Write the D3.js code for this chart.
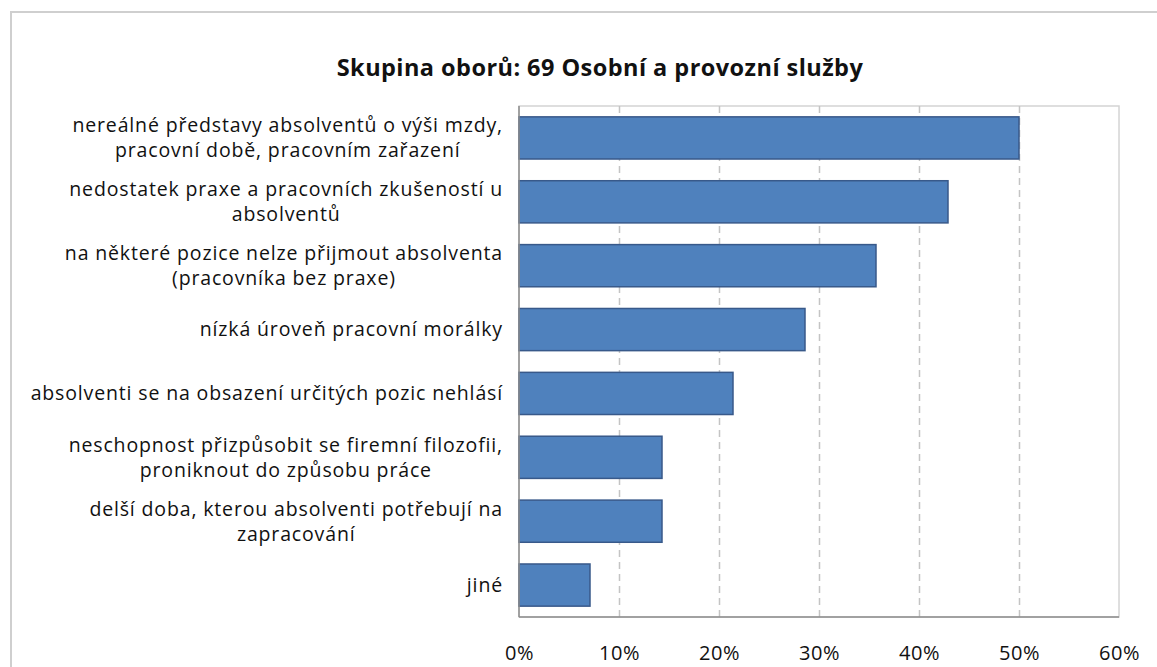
<!DOCTYPE html>
<html>
<head>
<meta charset="utf-8">
<script src="https://cdn.jsdelivr.net/npm/d3@7"></script>
<style>
  body { margin: 0; background: #fff; }
  svg { display: block; }
  text { font-family: "Open Sans", sans-serif; fill: #111; }
</style>
</head>
<body>
<svg id="chart" width="1157" height="667"></svg>
<script>
// categories (each one split into its wrapped lines, top to bottom)
var categories = [
    ["nereálné představy absolventů o výši mzdy,", "pracovní době, pracovním zařazení"],
    ["nedostatek praxe a pracovních zkušeností u", "absolventů"],
    ["na některé pozice nelze přijmout absolventa", "(pracovníka bez praxe)"],
    ["nízká úroveň pracovní morálky"],
    ["absolventi se na obsazení určitých pozic nehlásí"],
    ["neschopnost přizpůsobit se firemní filozofii,", "proniknout do způsobu práce"],
    ["delší doba, kterou absolventi potřebují na", "zapracování"],
    ["jiné"]
];
var shares = [0.5, 0.429, 0.357, 0.286, 0.214, 0.143, 0.143, 0.071];
var xTicks = [0, 0.1, 0.2, 0.3, 0.4, 0.5, 0.6];
var title = "Skupina oborů: 69 Osobní a provozní služby";

var svg = d3.select("#chart"),
    margin = {top: 106, right: 38, bottom: 50, left: 519},
    width = +svg.attr("width"),
    height = +svg.attr("height");

// outer chart frame (runs off the right and bottom edge like the original)
svg.append("rect")
   .attr("x", 11).attr("y", 12)
   .attr("width", width + 20).attr("height", height + 20)
   .attr("fill", "none")
   .attr("stroke", "#cfcfcf")
   .attr("stroke-width", 2);

svg.append("text")
   .attr("x", 600).attr("y", 76)
   .attr("text-anchor", "middle")
   .style("font-size", "23.5px")
   .style("font-weight", "bold")
   .style("letter-spacing", "0.45px")
   .text(title);

var x = d3.scaleLinear()
          .domain([0, 0.6])
          .range([margin.left, width - margin.right]);
var keys = categories.map(function(c) { return c.join(" "); });
var y = d3.scaleBand()
          .domain(keys)
          .range([margin.top, height - margin.bottom])
          .paddingInner(0.34)
          .paddingOuter(0.17);

// plot area border
svg.append("rect")
   .attr("x", x(0)).attr("y", margin.top)
   .attr("width", x(0.6) - x(0)).attr("height", height - margin.bottom - margin.top)
   .attr("fill", "none")
   .attr("stroke", "#d4d4d4")
   .attr("stroke-width", 1.5);

// dashed gridlines
svg.append("g")
   .selectAll("line")
   .data(xTicks.slice(1, -1))
   .enter().append("line")
           .attr("x1", function(d) { return Math.round(x(d)) + 0.5; })
           .attr("x2", function(d) { return Math.round(x(d)) + 0.5; })
           .attr("y1", margin.top)
           .attr("y2", height - margin.bottom)
           .attr("stroke", "#c4c4c4")
           .attr("stroke-width", 1.5)
           .attr("stroke-dasharray", "7,5");

// bars
svg.append("g")
   .selectAll("rect")
   .data(shares)
   .enter().append("rect")
           .attr("x", x(0))
           .attr("y", function(d, i) { return y(keys[i]); })
           .attr("width", function(d) { return x(d) - x(0); })
           .attr("height", y.bandwidth())
           .attr("fill", "#4f81bd")
           .attr("stroke", "#38598a")
           .attr("stroke-width", 1.5);

// axis lines
svg.append("line")
   .attr("x1", x(0)).attr("x2", x(0))
   .attr("y1", margin.top).attr("y2", height - margin.bottom)
   .attr("stroke", "#8c8c8c").attr("stroke-width", 1.5);
svg.append("line")
   .attr("x1", x(0)).attr("x2", x(0.6))
   .attr("y1", height - margin.bottom).attr("y2", height - margin.bottom)
   .attr("stroke", "#8c8c8c").attr("stroke-width", 1.5);

// x tick labels
var xAxis = d3.axisBottom(x)
              .tickValues(xTicks)
              .tickFormat(d3.format(".0%"))
              .tickSize(0)
              .tickPadding(29);
var gx = svg.append("g")
            .attr("transform", "translate(0," + (height - margin.bottom) + ")")
            .call(xAxis);
gx.select(".domain").remove();
gx.selectAll("text")
  .style("font-family", "'Open Sans', sans-serif")
  .style("font-size", "20px")
  .style("letter-spacing", "0.5px")
  .attr("fill", "#111");

// category labels: block right-aligned to the axis, lines centred on each other
var lineH = 25;
var labels = svg.append("g")
                .selectAll("g")
                .data(categories)
                .enter().append("g");
labels.each(function(lines, i) {
    var g = d3.select(this),
        cy = y(keys[i]) + y.bandwidth() / 2,
        top = cy - (lines.length - 1) * lineH / 2;
    var texts = g.selectAll("text")
                 .data(lines)
                 .enter().append("text")
                         .attr("y", function(d, j) { return top + j * lineH; })
                         .attr("dy", "0.35em")
                         .attr("text-anchor", "middle")
                         .style("font-size", "19.5px")
                         .style("letter-spacing", "0.85px")
                         .text(function(d) { return d; });
    var widest = d3.max(texts.nodes(), function(n) { return n.getComputedTextLength(); });
    texts.attr("x", x(0) - 16 - widest / 2);
});
</script>
</body>
</html>
